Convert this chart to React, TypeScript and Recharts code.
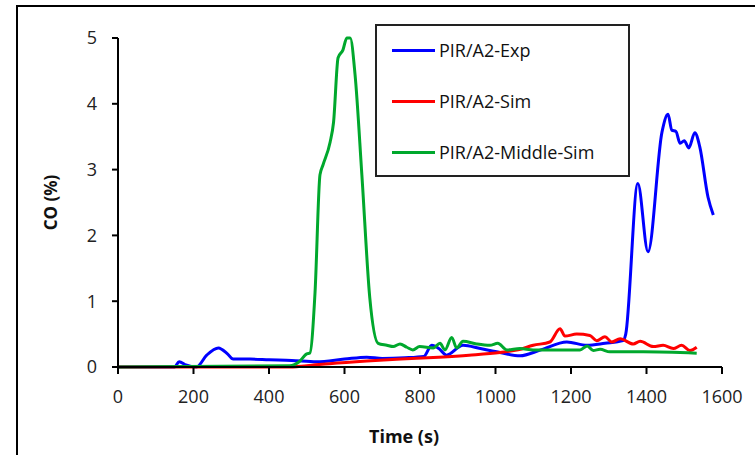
import { LineChart, Line, XAxis, YAxis, Label } from 'recharts';

const expTime = [0, 150, 162, 180, 208, 235, 266, 290, 305, 350, 400, 460, 526, 600, 659, 700, 760, 810, 831, 850, 870, 914, 960, 1012, 1065, 1120, 1189, 1242, 1290, 1338, 1345, 1377, 1404, 1441, 1457, 1467, 1478, 1489, 1500, 1512, 1528, 1541, 1563, 1577];
const expCO = [0, 0, 0.08, 0.03, 0.0, 0.18, 0.29, 0.2, 0.12, 0.12, 0.11, 0.1, 0.08, 0.12, 0.15, 0.13, 0.14, 0.16, 0.33, 0.28, 0.18, 0.33, 0.28, 0.22, 0.17, 0.26, 0.38, 0.33, 0.36, 0.4, 0.5, 2.79, 1.75, 3.57, 3.84, 3.6, 3.58, 3.4, 3.44, 3.33, 3.56, 3.35, 2.58, 2.31];

const simTime = [0, 447, 500, 560, 659, 750, 850, 930, 1012, 1060, 1100, 1144, 1171, 1184, 1215, 1250, 1268, 1290, 1308, 1330, 1365, 1383, 1418, 1444, 1471, 1493, 1515, 1533];
const simCO = [0, 0, 0.02, 0.05, 0.09, 0.12, 0.15, 0.18, 0.22, 0.26, 0.33, 0.38, 0.58, 0.47, 0.5, 0.48, 0.4, 0.46, 0.38, 0.43, 0.35, 0.39, 0.31, 0.33, 0.28, 0.33, 0.25, 0.3];

const midTime = [0, 455, 480, 500, 508, 522, 535, 543, 562, 571, 583, 596, 606, 615, 628, 646, 667, 689, 712, 729, 747, 765, 781, 799, 835, 853, 866, 884, 897, 914, 950, 985, 1006, 1030, 1065, 1100, 1189, 1224, 1243, 1259, 1277, 1303, 1392, 1533];
const midCO = [0, 0.02, 0.08, 0.2, 0.21, 1.14, 2.92, 3.07, 3.42, 3.72, 4.7, 4.82, 5.0, 5.0, 4.44, 2.92, 1.05, 0.36, 0.33, 0.31, 0.35, 0.3, 0.26, 0.31, 0.29, 0.36, 0.26, 0.45, 0.29, 0.39, 0.35, 0.33, 0.36, 0.26, 0.28, 0.26, 0.26, 0.26, 0.32, 0.25, 0.27, 0.23, 0.23, 0.21];

const xTicks = [0, 200, 400, 600, 800, 1000, 1200, 1400, 1600];
const yTicks = [0, 1, 2, 3, 4, 5];

const seriesNames = ['PIR/A2-Exp', 'PIR/A2-Sim', 'PIR/A2-Middle-Sim'];
const seriesColors = ['#0000ff', '#ff0000', '#00a82d'];

const toRows = (ts: number[], vs: number[]) => ts.map((t, i) => ({ t, v: vs[i] }));

const FONT = '"Open Sans", sans-serif';

function LegendBox() {
	return (
		<div
			style={{
				position: 'absolute',
				left: 375,
				top: 24,
				width: 255,
				height: 153,
				border: '2px solid #222',
				background: '#fff',
				boxSizing: 'border-box',
			}}
		>
			{seriesNames.map((name, i) => (
				<div
					key={name}
					style={{ position: 'absolute', left: 0, top: 12 + i * 51, height: 24, display: 'flex', alignItems: 'center' }}
				>
					<div style={{ marginLeft: 15, width: 43, height: 3, background: seriesColors[i] }} />
					<span style={{ marginLeft: 4, fontFamily: FONT, fontSize: 18, color: '#111' }}>{name}</span>
				</div>
			))}
		</div>
	);
}

export default function App() {
	const series = [toRows(expTime, expCO), toRows(simTime, simCO), toRows(midTime, midCO)];
	return (
		<div style={{ position: 'absolute', left: 0, top: 0, width: 755, height: 455, overflow: 'hidden', background: '#fff' }}>
			<div
				style={{
					position: 'absolute',
					left: 16,
					top: 5,
					width: 800,
					height: 500,
					border: '2px solid #000',
				}}
			/>
			<div style={{ position: 'absolute', left: 0, top: 0 }}>
				<LineChart width={755} height={455} margin={{ top: 38, right: 33, left: 58, bottom: 58 }}>
					<XAxis
						type="number"
						dataKey="t"
						domain={[0, 1600]}
						ticks={xTicks}
						allowDuplicatedCategory={false}
						height={30}
						tickSize={7}
						tickMargin={16}
						stroke="#000"
						strokeWidth={2}
						tick={{ fill: '#222', fontSize: 18, fontFamily: FONT }}
					>
						<Label
							value="Time (s)"
							position="insideBottom"
							offset={-46}
							dx={-16}
							style={{ fontFamily: FONT, fontSize: 18, fontWeight: 700, fill: '#111' }}
						/>
					</XAxis>
					<YAxis
						type="number"
						domain={[0, 5]}
						ticks={yTicks}
						width={60}
						tickSize={6}
						tickMargin={15}
						stroke="#000"
						strokeWidth={2}
						tick={{ fill: '#222', fontSize: 18, fontFamily: FONT }}
					>
						<Label
							value="CO (%)"
							angle={-90}
							position="insideLeft"
							offset={-7}
							style={{ textAnchor: 'middle', fontFamily: FONT, fontSize: 17, fontWeight: 700, fill: '#111' }}
						/>
					</YAxis>
					{series.map((rows, i) => (
						<Line
							key={seriesNames[i]}
							data={rows}
							dataKey="v"
							name={seriesNames[i]}
							type="monotone"
							stroke={seriesColors[i]}
							strokeWidth={3}
							dot={false}
							isAnimationActive={false}
						/>
					))}
				</LineChart>
			</div>
			<LegendBox />
		</div>
	);
}
